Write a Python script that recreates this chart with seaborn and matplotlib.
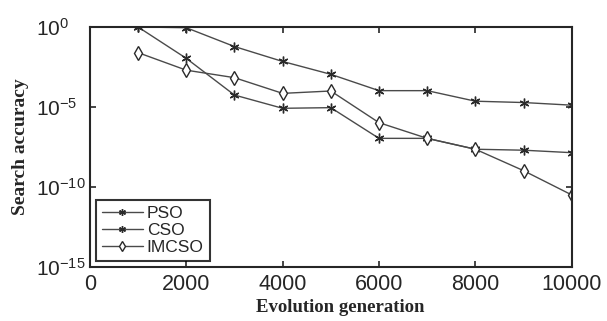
import numpy as np
import pandas as pd
import seaborn as sns
import matplotlib.pyplot as plt

generations = [1000, 2000, 3000, 4000, 5000, 6000, 7000, 8000, 9000, 10000]
pso = [1e0, 9e-1, 6e-2, 7e-3, 1.1e-3, 1.05e-4, 1.05e-4, 2.3e-5, 1.9e-5, 1.3e-5]
cso = [1e0, 1.1e-2, 5.6e-5, 8.3e-6, 9.1e-6, 1.1e-7, 1.1e-7, 2.3e-8, 2.0e-8, 1.4e-8]
imcso = [2.5e-2, 2.0e-3, 6.8e-4, 7.1e-5, 1.0e-4, 1.05e-6, 1.1e-7, 2.3e-8, 1.05e-9, 3.2e-11]
labels = ["PSO", "CSO", "IMCSO"]

sns.set_style("ticks")
plt.rcParams['font.family'] = ['Liberation Sans', 'DejaVu Sans']
plt.rcParams['mathtext.default'] = 'regular'

fig = plt.figure(figsize=(6.07, 3.21), dpi=100)
ax = fig.add_axes([0.148, 0.168, 0.794, 0.748])

star = (6, 2, 0)
markers = [star, star, "d"]
for name, vals, mk in zip(labels, [pso, cso, imcso], markers):
    sns.lineplot(x=generations, y=vals, label=name, marker=mk, color="#4a4a4a",
                 markersize=7, markerfacecolor="white", markeredgecolor="#2a2a2a",
                 markeredgewidth=1.0, linewidth=1.0, ax=ax)

ax.set_yscale("log")
ax.set_xlim(0, 10000)
ax.set_ylim(1e-15, 1e0)
ax.set_xticks([0, 2000, 4000, 6000, 8000, 10000])
ax.set_yticks([1e-15, 1e-10, 1e-5, 1e0])
ax.minorticks_off()
ax.tick_params(direction="in", top=True, right=True, length=4, width=1.2)
ax.tick_params(axis="x", labelsize=15.5, pad=5)
ax.tick_params(axis="y", labelsize=15, pad=39)
for lab in ax.get_yticklabels():
    lab.set_ha("left")
for s in ax.spines.values():
    s.set_linewidth(1.5)

ax.set_xlabel("Evolution generation", fontsize=13.5, fontweight="bold", family="Liberation Serif")
ax.set_ylabel("Search accuracy", fontsize=14, fontweight="bold", family="Liberation Serif")
ax.xaxis.set_label_coords(0.519, -0.135)
ax.yaxis.set_label_coords(-0.127, 0.5)

leg = ax.legend(loc="lower left", fontsize=12.5, frameon=True, fancybox=False,
                edgecolor="black", handlelength=2.4, borderpad=0.35,
                labelspacing=0.12, handletextpad=0.2, borderaxespad=0.33,
                markerscale=0.7)
leg.get_frame().set_linewidth(1.5)

fig.savefig("out.png", dpi=100)
